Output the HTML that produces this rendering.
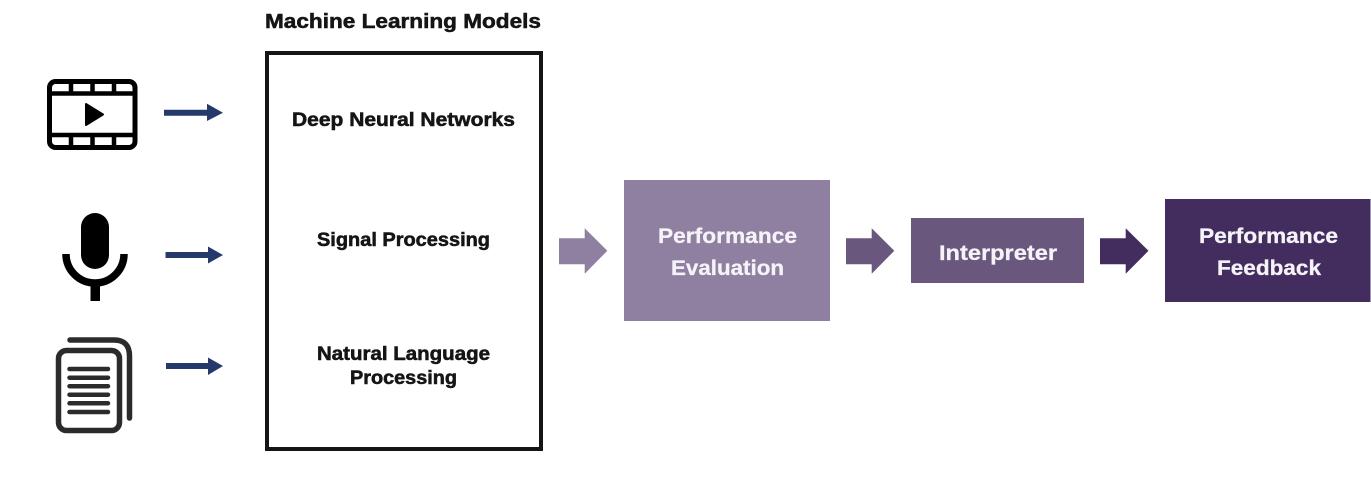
<!DOCTYPE html>
<html>
<head>
<meta charset="utf-8">
<style>
html,body{margin:0;padding:0;background:#fff;width:1371px;height:481px;overflow:hidden}
svg{display:block}
text{font-family:"Liberation Sans",sans-serif;font-weight:700}
.d{fill:#151515;stroke:#151515;stroke-width:.55px;font-size:19px}
.w{fill:#f6f3f8;stroke:#f6f3f8;stroke-width:.3px;font-size:21px}
</style>
</head>
<body>
<svg width="1371" height="481" viewBox="0 0 1371 481" xmlns="http://www.w3.org/2000/svg">
<rect width="1371" height="481" fill="#fff"/>

<text class="d" x="265" y="28" style="font-size:20.5px" textLength="276" lengthAdjust="spacingAndGlyphs">Machine Learning Models</text>
<rect x="267" y="53" width="274" height="396" fill="#fff" stroke="#151515" stroke-width="4"/>
<text class="d" x="292" y="126" textLength="223" lengthAdjust="spacingAndGlyphs">Deep Neural Networks</text>
<text class="d" x="317" y="246" textLength="173" lengthAdjust="spacingAndGlyphs">Signal Processing</text>
<text class="d" x="317" y="360" textLength="173" lengthAdjust="spacingAndGlyphs">Natural Language</text>
<text class="d" x="350" y="384" textLength="107" lengthAdjust="spacingAndGlyphs">Processing</text>

<!-- video icon -->
<rect x="49.500" y="81.500" width="85.500" height="66" rx="6" fill="none" stroke="#000" stroke-width="5"/>
<path d="M49 93.500H135M49 135H135M71 81V94M92.500 81V94M114 81V94M71 135V148M92.500 135V148M114 135V148" fill="none" stroke="#000" stroke-width="4.500"/>
<path d="M86 104L103 114.500L86 125Z" fill="#000" stroke="#000" stroke-width="2" stroke-linejoin="round"/>

<!-- mic icon -->
<rect x="81" y="213" width="28" height="56" rx="14" fill="#000"/>
<path d="M66 254A29 29 0 0 0 124 254" fill="none" stroke="#000" stroke-width="7.500"/>
<rect x="90.500" y="284" width="9.500" height="17" fill="#000"/>

<!-- document icon -->
<rect x="58.500" y="350.500" width="61" height="80" rx="8" fill="#fff" stroke="#2b2b2b" stroke-width="5.500"/>
<path d="M70 340H114Q129.500 340 129.500 356V418" fill="none" stroke="#2b2b2b" stroke-width="5.500" stroke-linecap="round"/>
<path d="M69.500 369H108M69.500 377.700H108M69.500 386.200H108M69.500 394.700H108M69.500 403.300H108M69.500 412H108" fill="none" stroke="#2b2b2b" stroke-width="4.500" stroke-linecap="round"/>

<!-- thin navy arrows -->
<path d="M164 109.700H207V103.700L223 112.700L207 121V115.700H164Z" fill="#253a6b"/>
<path d="M165.500 252H208V246.500L223 255L208 263.500V258H165.500Z" fill="#253a6b"/>
<path d="M166 363H208V357.500L223 366L208 375V369H166Z" fill="#253a6b"/>

<!-- block arrows -->
<path d="M559 238.300H584.700V228.300L607.300 250.800L584.700 273.700V264.300H559Z" fill="#8f7fa0"/>
<path d="M846 238.300H871.700V228.300L894.300 250.800L871.700 273.700V264.300H846Z" fill="#6a577d"/>
<path d="M1100 238.300H1125.700V228.300L1148.500 250.800L1125.700 273.700V264.300H1100Z" fill="#432d5e"/>

<!-- boxes -->
<rect x="624" y="180" width="206" height="141" fill="#8f7fa0"/>
<text class="w" x="658" y="243" textLength="139" lengthAdjust="spacingAndGlyphs">Performance</text>
<text class="w" x="671" y="275" textLength="113" lengthAdjust="spacingAndGlyphs">Evaluation</text>

<rect x="911" y="218" width="173" height="65" fill="#6a577d"/>
<text class="w" x="939" y="260" textLength="118" lengthAdjust="spacingAndGlyphs">Interpreter</text>

<rect x="1165" y="199" width="205.500" height="103" fill="#432d5e"/>
<text class="w" x="1199" y="243" textLength="139" lengthAdjust="spacingAndGlyphs">Performance</text>
<text class="w" x="1217" y="275" textLength="104" lengthAdjust="spacingAndGlyphs">Feedback</text>
</svg>
</body>
</html>
